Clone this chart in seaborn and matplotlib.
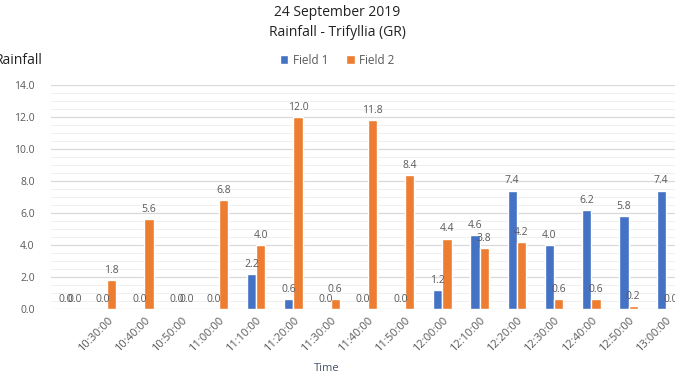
import pandas as pd
import matplotlib
matplotlib.use("Agg")
import matplotlib.pyplot as plt
import seaborn as sns
from matplotlib.ticker import MultipleLocator

# ==========================================
# DATA
# ==========================================

times = [" ", "10:30:00", "10:40:00", "10:50:00", "11:00:00", "11:10:00",
         "11:20:00", "11:30:00", "11:40:00", "11:50:00", "12:00:00",
         "12:10:00", "12:20:00", "12:30:00", "12:40:00", "12:50:00", "13:00:00"]
field1 = [0.0, 0.0, 0.0, 0.0, 0.0, 2.2, 0.6, 0.0, 0.0, 0.0, 1.2,
          4.6, 7.4, 4.0, 6.2, 5.8, 7.4]
field2 = [0.0, 1.8, 5.6, 0.0, 6.8, 4.0, 12.0, 0.6, 11.8, 8.4, 4.4,
          3.8, 4.2, 0.6, 0.6, 0.2, 0.0]

df = pd.DataFrame({"Time": times * 2,
                   "Rainfall": field1 + field2,
                   "Field": ["Field 1"] * len(times) + ["Field 2"] * len(times)})

# ==========================================
# PLOT
# ==========================================

sns.set_style("white")
plt.rcParams["font.family"] = ["Open Sans", "DejaVu Sans"]

fig = plt.figure(figsize=(6.75, 3.75), dpi=100)
ax = fig.add_axes([0.076, 0.176, 0.938, 0.597])

sns.barplot(data=df, x="Time", y="Rainfall", hue="Field", order=times,
            palette=["#4472C4", "#ED7D31"], saturation=1, width=0.5, ax=ax, legend=True)

for cont in ax.containers:
    ax.bar_label(cont, fmt="%.1f", fontsize=7.5, color="#595959", padding=3)

ax.set_ylim(0, 14)
ax.set_xlim(-0.5, len(times) - 0.5)
ax.yaxis.set_major_locator(MultipleLocator(2))
ax.yaxis.set_minor_locator(MultipleLocator(0.5))
ax.yaxis.set_major_formatter(matplotlib.ticker.FormatStrFormatter("%.1f"))
ax.grid(axis="y", which="major", color="#D9D9D9", lw=0.9)
ax.grid(axis="y", which="minor", color="#EFEFEF", lw=0.7)
ax.set_axisbelow(True)
ax.tick_params(axis="y", which="both", length=0, labelsize=7.5, labelcolor="#595959", pad=12)
ax.tick_params(axis="x", length=0, labelsize=8, labelcolor="#595959", pad=4)
ax.set_xticks(range(len(times)))
ax.set_xticklabels(times, rotation=45, ha="right", rotation_mode="anchor")
for s in ax.spines.values():
    s.set_visible(False)
ax.set_xlabel("")
ax.set_ylabel("")

ax.legend_.remove()
handles, labels = ax.get_legend_handles_labels()
fig.legend(handles, labels, loc="center", bbox_to_anchor=(0.5, 0.84), ncol=2,
           frameon=False, fontsize=8.5, handlelength=0.7, handleheight=0.7,
           columnspacing=1.5, handletextpad=0.4, labelcolor="#595959")

fig.text(0.5, 0.967, "24 September 2019", ha="center", va="center", fontsize=10, color="#222222")
fig.text(0.5, 0.914, "Rainfall - Trifyllia (GR)", ha="center", va="center", fontsize=10, color="#222222")
fig.text(-0.008, 0.84, "Rainfall", ha="left", va="center", fontsize=10, color="#222222")
fig.text(0.484, 0.018, "Time", ha="center", va="center", fontsize=8, color="#44546A")

fig.savefig("out.png", dpi=100)
